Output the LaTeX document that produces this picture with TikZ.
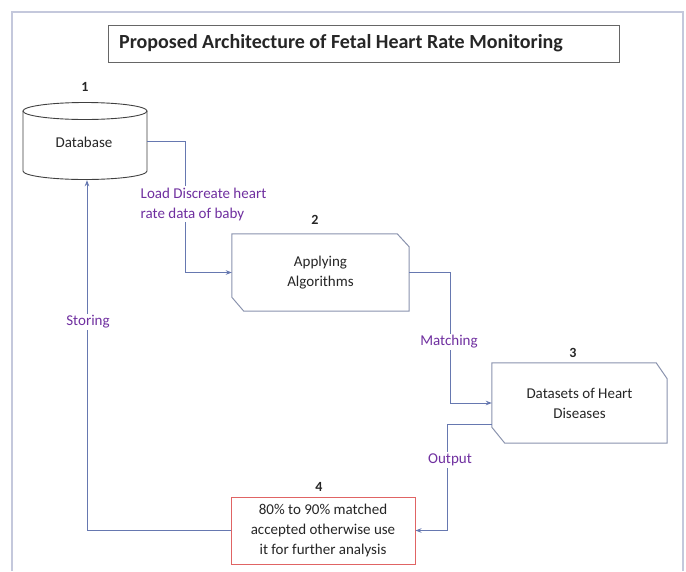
\documentclass[tikz,border=0pt]{standalone}
\usepackage{fontspec}
\setmainfont{Carlito}
\usetikzlibrary{arrows.meta}
\definecolor{framec}{HTML}{C4C8DC}
\definecolor{connc}{HTML}{6678B0}
\definecolor{labc}{HTML}{7030A0}
\definecolor{boxc}{HTML}{8A93AE}
\definecolor{redc}{HTML}{E06464}
\definecolor{txtc}{HTML}{262626}
\tikzset{
  every node/.style={font=\fontsize{15}{20}\selectfont, text=txtc},
  conn/.style={draw=connc, line width=0.9pt, -{Stealth[length=6pt,width=4.5pt]}},
  lab/.style={text=labc, fill=white, inner sep=1.5pt},
  num/.style={font=\fontsize{14}{16}\selectfont\bfseries},
}
\begin{document}
\begin{tikzpicture}[x=1pt,y=-1pt]
\useasboundingbox[fill=white] (0,0) rectangle (686,571);
% outer frame
\draw[framec, line width=1.6pt] (12,571) -- (12,12) -- (683,12) -- (683,571);
% title
\node[draw=black!60, line width=1pt, minimum width=511pt, minimum height=37pt] (title) at (363.5,43.5) {};
\node[anchor=west, inner sep=0pt, font=\fontsize{20}{22}\selectfont\bfseries] (titlet) at (119,43.5) {Proposed Architecture of Fetal Heart Rate Monitoring};
% database cylinder
\node[minimum width=124pt, minimum height=77pt, inner sep=0pt] (db) at (85,141.5) {};
\node at (84,142) (dbt) {Database};
\draw[black!75, line width=0.9pt] (85,111) ellipse [x radius=62, y radius=8.5];
\draw[black!75, line width=0.9pt] (23,111) -- (23,171) arc[start angle=180, end angle=0, x radius=62, y radius=8.5] -- (147,111);
\node[num] (n1) at (85,87) {1};
% applying algorithms
\node[minimum width=177pt, minimum height=77pt, inner sep=0pt, align=center] (alg) at (320.5,272.5) {Applying\\Algorithms};
\draw[boxc, line width=1pt] (alg.north west) -- ([xshift=-12pt]alg.north east) -- ([yshift=-13pt]alg.north east) -- (alg.south east) -- ([xshift=12pt]alg.south west) -- ([yshift=14pt]alg.south west) -- cycle;
\node[num] (n2) at (315,220) {2};
% datasets
\node[minimum width=175pt, minimum height=80pt, inner sep=0pt, align=center] (ds) at (579.5,403) {Datasets of Heart\\Diseases};
\draw[boxc, line width=1pt] (ds.north west) -- ([xshift=-11pt]ds.north east) -- ([yshift=-16pt]ds.north east) -- (ds.south east) -- ([xshift=13pt]ds.south west) -- ([yshift=16pt]ds.south west) -- cycle;
\node[num] (n3) at (573,353) {3};
% result
\node[draw=redc, line width=1pt, minimum width=184pt, minimum height=67pt, inner sep=0pt, align=center] (out) at (323,530.5) {80\% to 90\% matched\\accepted otherwise use\\it for further analysis};
\node[num] (n4) at (319,487) {4};
% connectors
\draw[conn] (db.east) -- ++(38,0) |- (alg.west);
\node[lab, align=left, anchor=west] (l1) at (139,204) {Load Discreate heart\\rate data of baby};
\draw[conn] (alg.east) -- ++(41,0) |- (ds.west);
\node[lab] (l2) at (449,342) {Matching};
\draw[conn] ([yshift=-21pt]ds.west) -- ++(-44,0) |- (out.east);
\node[lab] (l3) at (450,460) {Output};
\draw[conn] (out.west) -| ([xshift=2pt]db.south);
\node[lab] (l4) at (88,322) {Storing};
\end{tikzpicture}
\end{document}
